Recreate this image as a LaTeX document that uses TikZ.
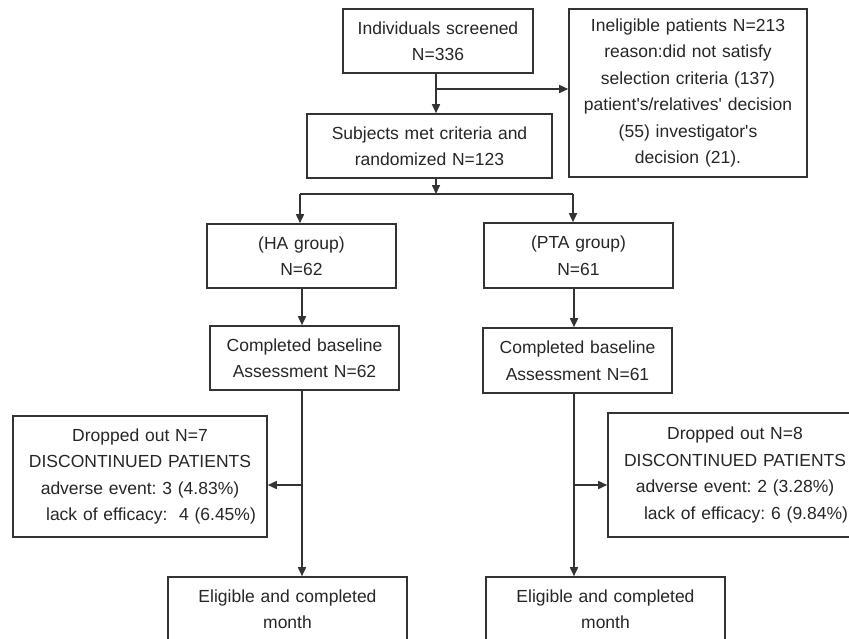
\documentclass[tikz,border=0pt]{standalone}
\usepackage{fontspec}
\setmainfont{Liberation Sans}
\usetikzlibrary{arrows.meta}
\frenchspacing
\tikzset{
  box/.style={draw=black!80, line width=1.6pt, inner sep=0pt, align=center,
    font=\fontsize{17.5}{26.5}\selectfont, text=black!85},
  wire/.style={draw=black!80, line width=1.6pt},
  link/.style={wire, -{Triangle[length=9pt,width=8pt]}},
}
\begin{document}
\begin{tikzpicture}[x=1pt,y=-1pt]
			\useasboundingbox (0,0) rectangle (849,638);
			%%%%% SCREENING %%%%%
			\node[box, text width=190pt, minimum height=64pt] (screen) at (438,41) {Individuals screened\\N=336};
			\node[box, text width=238pt, minimum height=168pt] (inelig) at (688,93)
				{Ineligible patients N=213\\reason:did not satisfy\\selection criteria (137)\\patient\textquotesingle s/relatives\textquotesingle{} decision\\(55) investigator\textquotesingle s\\decision (21).};
			\node[box, text width=245pt, minimum height=64pt] (subj) at (429.5,146) {Subjects met criteria and\\randomized N=123};
			
			%%%%% GROUPS %%%%%
			\node[box, text width=189pt, minimum height=64pt] (ha) at (301.5,256) {(HA group)\\N=62};
			\node[box, text width=189pt, minimum height=65pt] (pta) at (578.5,255.5) {(PTA group)\\N=61};
			\node[box, text width=189pt, minimum height=64pt] (habase) at (304.5,358) {Completed baseline\\Assessment N=62};
			\node[box, text width=189pt, minimum height=65pt] (ptabase) at (577.5,360.5) {Completed baseline\\Assessment N=61};
			
			%%%%% DROP OUTS %%%%%
			\node[box, text width=254pt, minimum height=121pt] (hadrop) at (140,476.5)
				{Dropped out N=7\\DISCONTINUED PATIENTS\\adverse event: 3 (4.83\%)\\\hspace*{22pt}lack of efficacy:~ 4 (6.45\%)};
			\node[box, text width=254pt, minimum height=124pt] (ptadrop) at (735,475)
				{Dropped out N=8\\DISCONTINUED PATIENTS\\adverse event: 2 (3.28\%)\\\hspace*{22pt}lack of efficacy: 6 (9.84\%)};
			
			\node[box, text width=239pt, minimum height=64pt] (haelig) at (287.5,609) {Eligible and completed\\month};
			\node[box, text width=239pt, minimum height=64pt] (ptaelig) at (605.5,609) {Eligible and completed\\month};
			
			%%%%% ARROWS %%%%%
			\coordinate (split) at (436,89);
			\coordinate (fork) at (436,194);
			\coordinate (forkL) at (300,194);
			\coordinate (forkR) at (573,194);
			\coordinate (colL) at (302,485);
			\coordinate (colR) at (574,485);
			
			\draw[link] (screen.south -| split) -- (subj.north -| split);
			\draw[link] (split) -- (split -| inelig.west);
			\draw[link] (subj.south -| fork) -- (fork);
			\draw[wire] (forkL) -- (forkR);
			\draw[link] (forkL) -- (forkL |- ha.north);
			\draw[link] (forkR) -- (forkR |- pta.north);
			\draw[link] (ha.south -| colL) -- (habase.north -| colL);
			\draw[link] (pta.south -| colR) -- (ptabase.north -| colR);
			\draw[link] (habase.south -| colL) -- (haelig.north -| colL);
			\draw[link] (ptabase.south -| colR) -- (ptaelig.north -| colR);
			\draw[link] (colL) -- (colL -| hadrop.east);
			\draw[link] (colR) -- (colR -| ptadrop.west);
\end{tikzpicture}
\end{document}
